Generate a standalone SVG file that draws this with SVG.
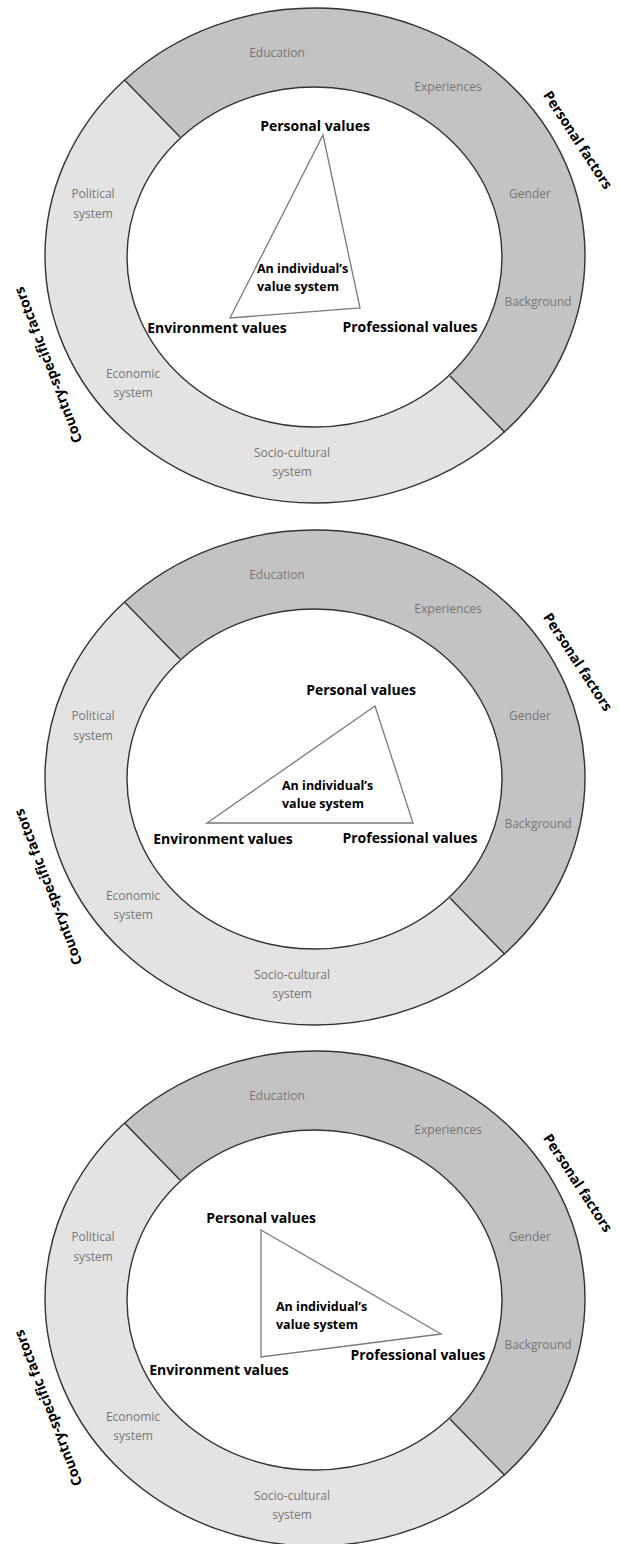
<svg xmlns="http://www.w3.org/2000/svg" width="619" height="1544" viewBox="0 0 619 1544">
<style>
.light{fill:#e3e3e3}
.dark{fill:#c3c3c3}
.edge{fill:none;stroke:#333333;stroke-width:1.4}
.hole{fill:#ffffff;stroke:#333333;stroke-width:1.4}
.tri{fill:none;stroke:#7a7a7a;stroke-width:1.3;stroke-linejoin:miter}
.factor{font-family:"Open Sans","Liberation Sans",sans-serif;font-size:12px;fill:#777777;text-anchor:middle}
.head{font-family:"Open Sans","Liberation Sans",sans-serif;font-weight:bold;font-size:14px;fill:#000;text-anchor:middle}
.val{font-family:"Open Sans","Liberation Sans",sans-serif;font-weight:bold;font-size:14px;fill:#000;text-anchor:middle}
.core{font-family:"Open Sans","Liberation Sans",sans-serif;font-weight:bold;font-size:12.5px;fill:#000;text-anchor:start}
</style>
<defs>
<clipPath id="upperHalf" clipPathUnits="userSpaceOnUse"><polygon points="180,137 125,80.5 90,44.5 90,-100 700,-100 700,640 530,458.2 505,432.5 450,376"/></clipPath>
</defs>
<rect width="619" height="1544" fill="#ffffff"/>

<!-- Panel 1 -->
<g id="panel1">
  <g id="p1-country-factors">
    <ellipse class="light" cx="315" cy="255.5" rx="270" ry="247.5"/>
  </g>
  <g id="p1-personal-factors">
    <ellipse class="dark" cx="315" cy="255.5" rx="270" ry="247.5" clip-path="url(#upperHalf)"/>
  </g>
  <g id="p1-value-system-area">
    <ellipse class="hole" cx="314.5" cy="257" rx="187.5" ry="170"/>
  </g>
  <g id="p1-ring-outline">
    <ellipse class="edge" cx="315" cy="255.5" rx="270" ry="247.5"/>
    <line class="edge" x1="125" y1="80.5" x2="180" y2="137"/>
    <line class="edge" x1="450" y1="376" x2="505" y2="432.5"/>
  </g>
  <g id="p1-factor-labels">
    <text class="factor" x="277" y="57">Education</text>
    <text class="factor" x="448" y="91">Experiences</text>
    <text class="factor" x="530" y="198">Gender</text>
    <text class="factor" x="538" y="306">Background</text>
    <text class="factor" x="93" y="198">Political</text>
    <text class="factor" x="93" y="218">system</text>
    <text class="factor" x="133" y="378">Economic</text>
    <text class="factor" x="133" y="397">system</text>
    <text class="factor" x="292" y="457">Socio-cultural</text>
    <text class="factor" x="292" y="476">system</text>
    <text class="head" transform="translate(578,140) rotate(57)" x="0" y="5">Personal factors</text>
    <text class="head" transform="translate(48,365) rotate(-111)" x="0" y="5">Country-specific factors</text>
  </g>
  <g id="p1-connectors">
    <polygon class="tri" points="323,135 360,308 230,318"/>
  </g>
  <g id="p1-personal-values"><text class="val" x="315" y="131">Personal values</text></g>
  <g id="p1-environment-values"><text class="val" x="217" y="333">Environment values</text></g>
  <g id="p1-professional-values"><text class="val" x="410" y="332">Professional values</text></g>
  <g id="p1-individual"><text class="core" x="257" y="273">An individual’s</text><text class="core" x="257" y="291">value system</text></g>
</g>

<!-- Panel 2 -->
<g id="panel2" transform="translate(0,522)">
  <g id="p2-country-factors">
    <ellipse class="light" cx="315" cy="255.5" rx="270" ry="247.5"/>
  </g>
  <g id="p2-personal-factors">
    <ellipse class="dark" cx="315" cy="255.5" rx="270" ry="247.5" clip-path="url(#upperHalf)"/>
  </g>
  <g id="p2-value-system-area">
    <ellipse class="hole" cx="314.5" cy="257" rx="187.5" ry="170"/>
  </g>
  <g id="p2-ring-outline">
    <ellipse class="edge" cx="315" cy="255.5" rx="270" ry="247.5"/>
    <line class="edge" x1="125" y1="80.5" x2="180" y2="137"/>
    <line class="edge" x1="450" y1="376" x2="505" y2="432.5"/>
  </g>
  <g id="p2-factor-labels">
    <text class="factor" x="277" y="57">Education</text>
    <text class="factor" x="448" y="91">Experiences</text>
    <text class="factor" x="530" y="198">Gender</text>
    <text class="factor" x="538" y="306">Background</text>
    <text class="factor" x="93" y="198">Political</text>
    <text class="factor" x="93" y="218">system</text>
    <text class="factor" x="133" y="378">Economic</text>
    <text class="factor" x="133" y="397">system</text>
    <text class="factor" x="292" y="457">Socio-cultural</text>
    <text class="factor" x="292" y="476">system</text>
    <text class="head" transform="translate(578,140) rotate(57)" x="0" y="5">Personal factors</text>
    <text class="head" transform="translate(48,365) rotate(-111)" x="0" y="5">Country-specific factors</text>
  </g>
  <g id="p2-connectors">
    <polygon class="tri" points="375,184 413,301 207,301"/>
  </g>
  <g id="p2-personal-values"><text class="val" x="361" y="173">Personal values</text></g>
  <g id="p2-environment-values"><text class="val" x="223" y="322">Environment values</text></g>
  <g id="p2-professional-values"><text class="val" x="410" y="321">Professional values</text></g>
  <g id="p2-individual"><text class="core" x="282" y="268">An individual’s</text><text class="core" x="282" y="286">value system</text></g>
</g>

<!-- Panel 3 -->
<g id="panel3" transform="translate(0,1043)">
  <g id="p3-country-factors">
    <ellipse class="light" cx="315" cy="255.5" rx="270" ry="247.5"/>
  </g>
  <g id="p3-personal-factors">
    <ellipse class="dark" cx="315" cy="255.5" rx="270" ry="247.5" clip-path="url(#upperHalf)"/>
  </g>
  <g id="p3-value-system-area">
    <ellipse class="hole" cx="314.5" cy="257" rx="187.5" ry="170"/>
  </g>
  <g id="p3-ring-outline">
    <ellipse class="edge" cx="315" cy="255.5" rx="270" ry="247.5"/>
    <line class="edge" x1="125" y1="80.5" x2="180" y2="137"/>
    <line class="edge" x1="450" y1="376" x2="505" y2="432.5"/>
  </g>
  <g id="p3-factor-labels">
    <text class="factor" x="277" y="57">Education</text>
    <text class="factor" x="448" y="91">Experiences</text>
    <text class="factor" x="530" y="198">Gender</text>
    <text class="factor" x="538" y="306">Background</text>
    <text class="factor" x="93" y="198">Political</text>
    <text class="factor" x="93" y="218">system</text>
    <text class="factor" x="133" y="378">Economic</text>
    <text class="factor" x="133" y="397">system</text>
    <text class="factor" x="292" y="457">Socio-cultural</text>
    <text class="factor" x="292" y="476">system</text>
    <text class="head" transform="translate(578,140) rotate(57)" x="0" y="5">Personal factors</text>
    <text class="head" transform="translate(48,365) rotate(-111)" x="0" y="5">Country-specific factors</text>
  </g>
  <g id="p3-connectors">
    <polygon class="tri" points="261,187 441,291 261,314"/>
  </g>
  <g id="p3-personal-values"><text class="val" x="261" y="180">Personal values</text></g>
  <g id="p3-environment-values"><text class="val" x="219" y="332">Environment values</text></g>
  <g id="p3-professional-values"><text class="val" x="418" y="317">Professional values</text></g>
  <g id="p3-individual"><text class="core" x="276" y="268">An individual’s</text><text class="core" x="276" y="286">value system</text></g>
</g>
</svg>
